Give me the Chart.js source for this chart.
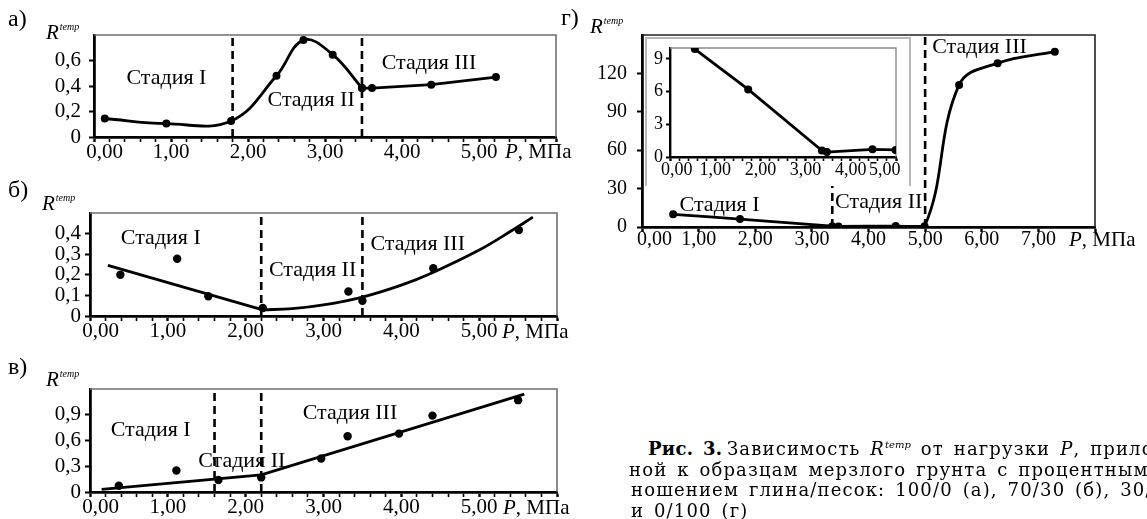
<!DOCTYPE html>
<html lang="ru"><head><meta charset="utf-8">
<script src="https://cdn.jsdelivr.net/npm/chart.js@4.4.1/dist/chart.umd.min.js"></script>
<style>
html,body{margin:0;padding:0;background:#fff}
body{position:relative;width:1147px;height:519px;overflow:hidden}
canvas{position:absolute;display:block}
.t{position:absolute;font-family:"Liberation Serif";color:#000;white-space:nowrap;line-height:1;z-index:5}
.lt{font-size:24px}
.rl{font-size:21px;font-style:italic}
.rl span{font-size:10px;position:relative;top:-9px;margin-left:1px}
.pl{font-size:21px}
.cap{position:absolute;font-family:"DejaVu Serif";font-size:18px;line-height:20px;white-space:nowrap;color:#000;letter-spacing:1.15px;word-spacing:3px;z-index:5}
.cap span.s{font-style:italic;font-size:10px;position:relative;top:-7px;letter-spacing:0}
#inset{position:absolute;left:645px;top:37px;width:266px;height:149px;background:#fff;border:2px solid #b8b8b8;border-bottom:none;box-sizing:border-box;z-index:2}
</style></head>
<body>
<canvas id="ca" style="z-index:1"></canvas>
<canvas id="cb" style="z-index:1"></canvas>
<canvas id="cc" style="z-index:1"></canvas>
<canvas id="cd" style="z-index:1"></canvas>
<div id="inset"></div>
<canvas id="ci" style="z-index:3"></canvas>

<div class="t lt" style="left:8px;top:6px">а)</div>
<div class="t lt" style="left:8px;top:177px">б)</div>
<div class="t lt" style="left:8px;top:354px">в)</div>
<div class="t lt" style="left:561px;top:5px">г)</div>

<div class="t rl" style="left:46px;top:22px">R<span>temp</span></div>
<div class="t rl" style="left:42px;top:193px">R<span>temp</span></div>
<div class="t rl" style="left:46px;top:369px">R<span>temp</span></div>
<div class="t rl" style="left:590px;top:16px">R<span>temp</span></div>

<div class="t pl" style="left:505px;top:141px"><i>P</i>, МПа</div>
<div class="t pl" style="left:502px;top:321px"><i>P</i>, МПа</div>
<div class="t pl" style="left:503px;top:497px"><i>P</i>, МПа</div>
<div class="t pl" style="left:1069px;top:229px"><i>P</i>, МПа</div>

<div class="cap" style="left:648px;top:439px;letter-spacing:0.3px"><b>Рис. 3.</b></div>
<div class="cap" style="left:727px;top:439px">Зависимость <i>R</i><span class="s">temp</span> от нагрузки <i>P</i>, приложен-</div>
<div class="cap" style="left:629px;top:459.5px">ной к образцам мерзлого грунта с процентным соот-</div>
<div class="cap" style="left:631px;top:480px">ношением глина/песок: 100/0 (а), 70/30 (б), 30/70 (в)</div>
<div class="cap" style="left:631px;top:500.5px">и 0/100 (г)</div>

<script>
// ---------- DATA ----------
// Panel а (глина/песок 100/0)
const aP12 = [0.14, 0.94, 1.78, 2.37, 2.72, 3.10, 3.48];
const aR12 = [0.145, 0.105, 0.126, 0.48, 0.76, 0.646, 0.384];
const aP3  = [3.48, 3.61, 4.38, 5.22];
const aR3  = [0.384, 0.384, 0.41, 0.47];
const aStageBounds = [1.8, 3.48];

// Panel б (70/30)
const bP = [0.39, 1.12, 1.52, 2.22, 3.32, 3.50, 4.41, 5.51];
const bR = [0.20, 0.278, 0.096, 0.039, 0.119, 0.074, 0.232, 0.417];
const bTrend1P = [0.23, 2.22];
const bTrend1R = [0.246, 0.03];
const bTrend2P = [2.22, 2.6, 3.0, 3.5, 4.0, 4.4, 5.0, 5.4, 5.69];
const bTrend2R = [0.03, 0.036, 0.054, 0.092, 0.15, 0.21, 0.32, 0.41, 0.48];
const bStageBounds = [2.2, 3.5];

// Panel в (30/70)
const cP = [0.37, 1.11, 1.65, 2.20, 2.97, 3.31, 3.97, 4.40, 5.50];
const cR = [0.072, 0.25, 0.14, 0.17, 0.39, 0.65, 0.68, 0.89, 1.07];
const cTrendP = [0.15, 2.20, 5.58];
const cTrendR = [0.03, 0.20, 1.14];
const cStageBounds = [1.6, 2.2];

// Panel г (0/100)
const dP = [0.55, 1.73, 3.36, 3.47, 4.48, 4.99, 5.60, 6.28, 7.29];
const dR = [9.9, 6.2, 0.6, 0.45, 0.7, 0.65, 111, 128, 137];
const dStageBounds = [3.36, 5.0];
const insetCount = 6; // inset shows the points with P <= 5

// Axis ticks & labels
const xMajorABC  = [0, 1, 2, 3, 4, 5, 6];
const xLabelsABC = ['0,00', '1,00', '2,00', '3,00', '4,00', '5,00', ''];
const aYTicks = [0, 0.2, 0.4, 0.6];           const aYLabels = ['0', '0,2', '0,4', '0,6'];
const bYTicks = [0, 0.1, 0.2, 0.3, 0.4];      const bYLabels = ['0', '0,1', '0,2', '0,3', '0,4'];
const cYTicks = [0, 0.3, 0.6, 0.9];           const cYLabels = ['0', '0,3', '0,6', '0,9'];
const dXMajor  = [0, 1, 2, 3, 4, 5, 6, 7, 8];
const dXLabels = ['0,00', '1,00', '2,00', '3,00', '4,00', '5,00', '6,00', '7,00', ''];
const dYTicks  = [0, 30, 60, 90, 120];        const dYLabels = ['0', '30', '60', '90', '120'];
const iXMajor  = [0, 1, 2, 3, 4, 5];
const iXLabels = ['0,00', '1,00', '2,00', '3,00', '4,00', '5,00'];
const iYTicks  = [0, 3, 6, 9];                const iYLabels = ['0', '3', '6', '9'];

// Stage annotations (text anchored at data coordinates)
const stageText = 'Стадия';
const aNotes = [[stageText + ' I', 0.94, 0.46], [stageText + ' II', 2.82, 0.29], [stageText + ' III', 4.35, 0.58]];
const bNotes = [[stageText + ' I', 0.91, 0.38], [stageText + ' II', 2.86, 0.22], [stageText + ' III', 4.21, 0.35]];
const cNotes = [[stageText + ' I', 0.78, 0.715], [stageText + ' II', 1.95, 0.36], [stageText + ' III', 3.34, 0.914]];
const dNotes = [[stageText + ' I', 1.37, 17], [stageText + ' II', 4.18, 19.3], [stageText + ' III', 5.96, 140.6]];

// ---------- HELPERS ----------
const SERIF = '"Liberation Serif"';
Chart.defaults.font.family = SERIF;
const pts = (P, R) => P.map((p, i) => ({x: p, y: R[i]}));
function withMinors(majors, step) {
  const out = [];
  for (let i = 0; i < majors.length - 1; i++) {
    const n = Math.round((majors[i + 1] - majors[i]) / step);
    for (let k = 0; k < n; k++) out.push(+(majors[i] + k * step).toFixed(6));
  }
  out.push(majors[majors.length - 1]);
  return out;
}
const idxOf = (arr, v) => arr.findIndex(m => Math.abs(m - v) < 1e-6);

function lineDs(data, tension, extra) {
  return Object.assign({data, borderColor: '#000', backgroundColor: '#000', borderWidth: 2.8,
    pointRadius: 4, pointHoverRadius: 4, pointBorderWidth: 0, tension, fill: false, order: 1}, extra || {});
}
function dotsDs(data) {
  return {data, showLine: false, borderColor: '#000', backgroundColor: '#000', pointRadius: 4.2,
    pointHoverRadius: 4.2, pointBorderWidth: 0, order: 0};
}
function dashDs(x, y0, y1) {
  return {data: [{x, y: y0}, {x, y: y1}], borderColor: '#000', borderWidth: 2.6, borderDash: [8, 5],
    pointRadius: 0, pointHoverRadius: 0, tension: 0, fill: false, order: 2};
}

function build(cfg) {
  const cv = document.getElementById(cfg.id);
  const left = cfg.area.l - cfg.yW, top = cfg.area.t - cfg.padT;
  const w = cfg.area.r + cfg.padR - left, h = cfg.area.b + cfg.xH - top;
  Object.assign(cv.style, {left: left + 'px', top: top + 'px', width: w + 'px', height: h + 'px'});
  cv.width = w; cv.height = h;
  const zero = s => { s.paddingLeft = 0; s.paddingRight = 0; s.paddingTop = 0; s.paddingBottom = 0; };
  const xTicks = cfg.xMinor ? withMinors(cfg.xMajor, cfg.xMinor) : cfg.xMajor.slice();
  const lastLab = cfg.xLabels.length - 1;
  const framePlugin = {
    id: 'frame',
    beforeDatasetsDraw(ch) {
      const {ctx, chartArea: a} = ch;
      ctx.save();
      ctx.strokeStyle = cfg.frameColor; ctx.lineWidth = cfg.frameWidth;
      ctx.beginPath(); ctx.moveTo(a.left, a.top); ctx.lineTo(a.right, a.top); ctx.lineTo(a.right, a.bottom);
      ctx.stroke(); ctx.restore();
    }
  };
  const notePlugin = {
    id: 'notes',
    afterDatasetsDraw(ch) {
      if (!cfg.notes) return;
      const ctx = ch.ctx;
      ctx.save();
      ctx.font = cfg.noteSize + 'px "Liberation Serif"';
      ctx.fillStyle = '#000'; ctx.textAlign = 'center'; ctx.textBaseline = 'middle';
      cfg.notes.forEach(([t, x, y]) => ctx.fillText(t, ch.scales.x.getPixelForValue(x), ch.scales.y.getPixelForValue(y)));
      ctx.restore();
    }
  };
  return new Chart(cv, {
    type: 'line',
    data: {datasets: cfg.datasets},
    options: {
      responsive: false, animation: false, devicePixelRatio: 1, events: [],
      layout: {padding: {left: 0, top: cfg.padT, right: cfg.padR, bottom: 0}},
      plugins: {legend: {display: false}, tooltip: {enabled: false}, title: {display: false}},
      scales: {
        x: {
          type: 'linear', min: 0, max: cfg.xMax,
          afterBuildTicks: s => { s.ticks = xTicks.map(v => ({value: v})); },
          afterFit: s => { s.height = cfg.xH; zero(s); },
          ticks: {autoSkip: false, maxRotation: 0, minRotation: 0, padding: cfg.xPad, color: '#000',
            font: {family: SERIF, size: cfg.fs, lineHeight: 1},
            callback: v => {
              const i = idxOf(cfg.xMajor, v);
              if (i < 0) return '';
              let s = cfg.xLabels[i];
              if (i === 0) s = ' '.repeat(cfg.firstPad || 0) + s;
              if (i === lastLab && cfg.lastPad) s = s + ' '.repeat(cfg.lastPad);
              return s;
            }},
          grid: {drawOnChartArea: false, drawTicks: true, tickLength: cfg.tl, tickColor: '#000',
            tickWidth: c => (c.tick && idxOf(cfg.xMajor, c.tick.value) >= 0) ? 2.4 : 1.6},
          border: {display: true, color: '#000', width: cfg.axisW}
        },
        y: {
          type: 'linear', min: 0, max: cfg.yMax,
          afterBuildTicks: s => { s.ticks = cfg.yTicks.map(v => ({value: v})); },
          afterFit: s => { s.width = cfg.yW; zero(s); },
          ticks: {autoSkip: false, padding: cfg.yPad, color: '#000',
            font: {family: SERIF, size: cfg.fs, lineHeight: 1},
            callback: v => { const i = idxOf(cfg.yTicks, v); return i < 0 ? '' : cfg.yLabels[i]; }},
          grid: {drawOnChartArea: false, drawTicks: true, tickLength: cfg.tl, tickColor: '#000', tickWidth: 2},
          border: {display: true, color: '#000', width: cfg.axisW}
        }
      }
    },
    plugins: [framePlugin, notePlugin]
  });
}

// ---------- PANELS ----------
const charts = [];
charts.push(build({
  id: 'ca', area: {l: 94, t: 35, r: 556, b: 137}, yW: 70, xH: 35, padT: 20, padR: 25,
  xMax: 6, yMax: 0.8, xMajor: xMajorABC, xLabels: xLabelsABC, xMinor: 0.2, firstPad: 4,
  yTicks: aYTicks, yLabels: aYLabels, fs: 21, tl: 5, xPad: 0, yPad: 8, axisW: 2.8,
  frameColor: '#6e6e6e', frameWidth: 1.6, notes: aNotes, noteSize: 22,
  datasets: [
    lineDs(pts(aP12, aR12), 0.4),
    lineDs(pts(aP3, aR3), 0),
    dashDs(aStageBounds[0], 0, 0.8),
    dashDs(aStageBounds[1], 0, 0.8)
  ]
}));

charts.push(build({
  id: 'cb', area: {l: 90, t: 213, r: 557, b: 316}, yW: 70, xH: 35, padT: 20, padR: 25,
  xMax: 6, yMax: 0.5, xMajor: xMajorABC, xLabels: xLabelsABC, xMinor: 0.2, firstPad: 4,
  yTicks: bYTicks, yLabels: bYLabels, fs: 21, tl: 5, xPad: 0, yPad: 4, axisW: 2.8,
  frameColor: '#6e6e6e', frameWidth: 1.6, notes: bNotes, noteSize: 22,
  datasets: [
    dotsDs(pts(bP, bR)),
    lineDs(pts(bTrend1P, bTrend1R), 0, {pointRadius: 0}),
    lineDs(pts(bTrend2P, bTrend2R), 0.4, {pointRadius: 0}),
    dashDs(bStageBounds[0], 0, 0.5),
    dashDs(bStageBounds[1], 0, 0.5)
  ]
}));

charts.push(build({
  id: 'cc', area: {l: 90, t: 389, r: 557, b: 492}, yW: 70, xH: 27, padT: 20, padR: 25,
  xMax: 6, yMax: 1.2, xMajor: xMajorABC, xLabels: xLabelsABC, xMinor: 0.2, firstPad: 4,
  yTicks: cYTicks, yLabels: cYLabels, fs: 21, tl: 5, xPad: 0, yPad: 4, axisW: 2.8,
  frameColor: '#6e6e6e', frameWidth: 1.6, notes: cNotes, noteSize: 22,
  datasets: [
    dotsDs(pts(cP, cR)),
    lineDs(pts(cTrendP, cTrendR), 0, {pointRadius: 0}),
    dashDs(cStageBounds[0], 0, 1.2),
    dashDs(cStageBounds[1], 0, 1.2)
  ]
}));

charts.push(build({
  id: 'cd', area: {l: 642, t: 35, r: 1095, b: 227}, yW: 70, xH: 35, padT: 20, padR: 30,
  xMax: 8, yMax: 150, xMajor: dXMajor, xLabels: dXLabels, xMinor: 0, firstPad: 5,
  yTicks: dYTicks, yLabels: dYLabels, fs: 20, tl: 5, xPad: -2, yPad: 10, axisW: 2.8,
  frameColor: '#222', frameWidth: 1.6, notes: dNotes, noteSize: 22,
  datasets: [
    lineDs(pts(dP, dR), 0.4),
    dashDs(dStageBounds[0], 0, 150),
    dashDs(dStageBounds[1], 0, 150)
  ]
}));

charts.push(build({
  id: 'ci', area: {l: 670, t: 48, r: 896, b: 157}, yW: 28, xH: 24, padT: 14, padR: 24,
  xMax: 5, yMax: 10, xMajor: iXMajor, xLabels: iXLabels, xMinor: 0.2, firstPad: 3, lastPad: 5,
  yTicks: iYTicks, yLabels: iYLabels, fs: 18, tl: 4, xPad: 0, yPad: 3, axisW: 2.4,
  frameColor: '#8a8a8a', frameWidth: 1.4, notes: null, noteSize: 18,
  datasets: [
    lineDs(pts(dP.slice(0, insetCount), dR.slice(0, insetCount)), 0)
  ]
}));

function redraw() { charts.forEach(c => { try { c.update('none'); } catch (e) {} }); }
if (document.fonts) document.fonts.ready.then(redraw);
setTimeout(redraw, 200);
</script>
</body></html>
